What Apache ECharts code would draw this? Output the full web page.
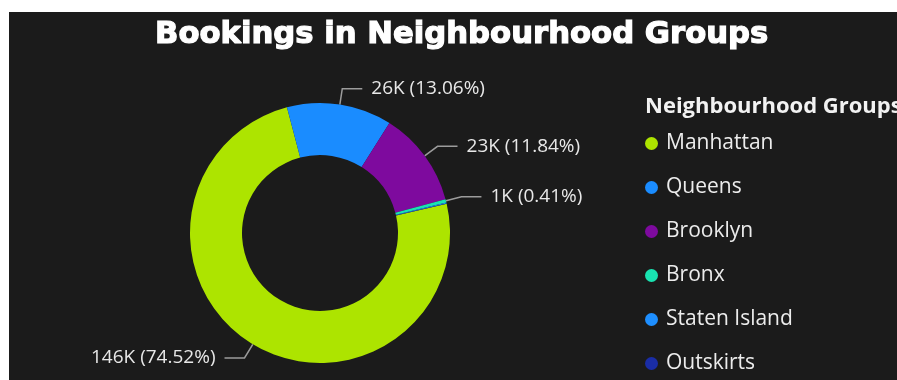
<!DOCTYPE html>
<html>
<head>
<meta charset="utf-8">
<title>Bookings in Neighbourhood Groups</title>
<script src="https://cdn.jsdelivr.net/npm/echarts@6/dist/echarts.min.js"></script>
<style>
  html, body { margin: 0; padding: 0; background: #ffffff; width: 897px; height: 380px; overflow: hidden; }
  #chart { position: absolute; left: 9px; top: 12px; width: 888px; height: 368px; }
</style>
</head>
<body>
<div id="chart"></div>
<script>
// Booking counts per neighbourhood group
const groups = ['Manhattan', 'Queens', 'Brooklyn', 'Bronx', 'Staten Island', 'Outskirts'];
const bookings = [146059, 25598, 23206, 804, 294, 39];
const groupColors = ['#ADE400', '#1A8CFF', '#7E0A9E', '#19E3B1', '#1E8FFF', '#1A2DA6'];

const total = bookings.reduce((a, b) => a + b, 0);
// Slices too thin to carry a readable label
const minLabelShare = 0.003;

const pieData = groups.map((name, i) => {
  const share = bookings[i] / total;
  const item = { name: name, value: bookings[i], itemStyle: { color: groupColors[i] } };
  if (share < minLabelShare) {
    item.label = { show: false };
    item.labelLine = { show: false };
  }
  return item;
});

const chart = echarts.init(document.getElementById('chart'), null, { renderer: 'canvas' });

chart.setOption({
  backgroundColor: '#1b1b1b',
  animation: false,
  title: [
    {
      text: 'Bookings in Neighbourhood Groups',
      left: 146,
      top: 8,
      padding: 0,
      textStyle: {
        color: '#ffffff',
        fontFamily: 'DejaVu Sans, Liberation Sans, sans-serif',
        fontWeight: 'bold',
        fontSize: 30.7,
        textBorderColor: '#ffffff',
        textBorderWidth: 1.2
      }
    },
    {
      text: 'Neighbourhood Groups',
      left: 636,
      top: 84,
      padding: 0,
      textStyle: {
        color: '#f2f2f2',
        fontFamily: 'Open Sans, Noto Sans, sans-serif',
        fontWeight: 'bold',
        fontSize: 22
      }
    }
  ],
  legend: {
    orient: 'vertical',
    left: 636,
    top: 121,
    height: 246,
    padding: 0,
    icon: 'circle',
    itemWidth: 13,
    itemHeight: 13,
    itemGap: 23,
    selectedMode: false,
    data: groups,
    textStyle: {
      color: '#ececec',
      fontFamily: 'Open Sans, Noto Sans, sans-serif',
      fontSize: 21,
      padding: [0, 0, 0, 3]
    }
  },
  series: [
    {
      type: 'pie',
      center: [311, 221],
      radius: [78, 130],
      startAngle: 13,
      clockwise: true,
      avoidLabelOverlap: true,
      emphasis: { disabled: true },
      label: {
        show: true,
        position: 'outside',
        color: '#e8e8e8',
        fontFamily: 'Open Sans, Noto Sans, sans-serif',
        fontSize: 19,
        distanceToLabelLine: 9,
        formatter: function (p) {
          const k = Math.round(p.value / 1000) + 'K';
          const pct = (p.value / total * 100).toFixed(2) + '%';
          return k + ' (' + pct + ')';
        }
      },
      labelLine: {
        show: true,
        length: 16,
        length2: 20,
        smooth: false,
        lineStyle: { color: '#9c9c9c', width: 1.5 }
      },
      data: pieData
    }
  ]
});
</script>
</body>
</html>
